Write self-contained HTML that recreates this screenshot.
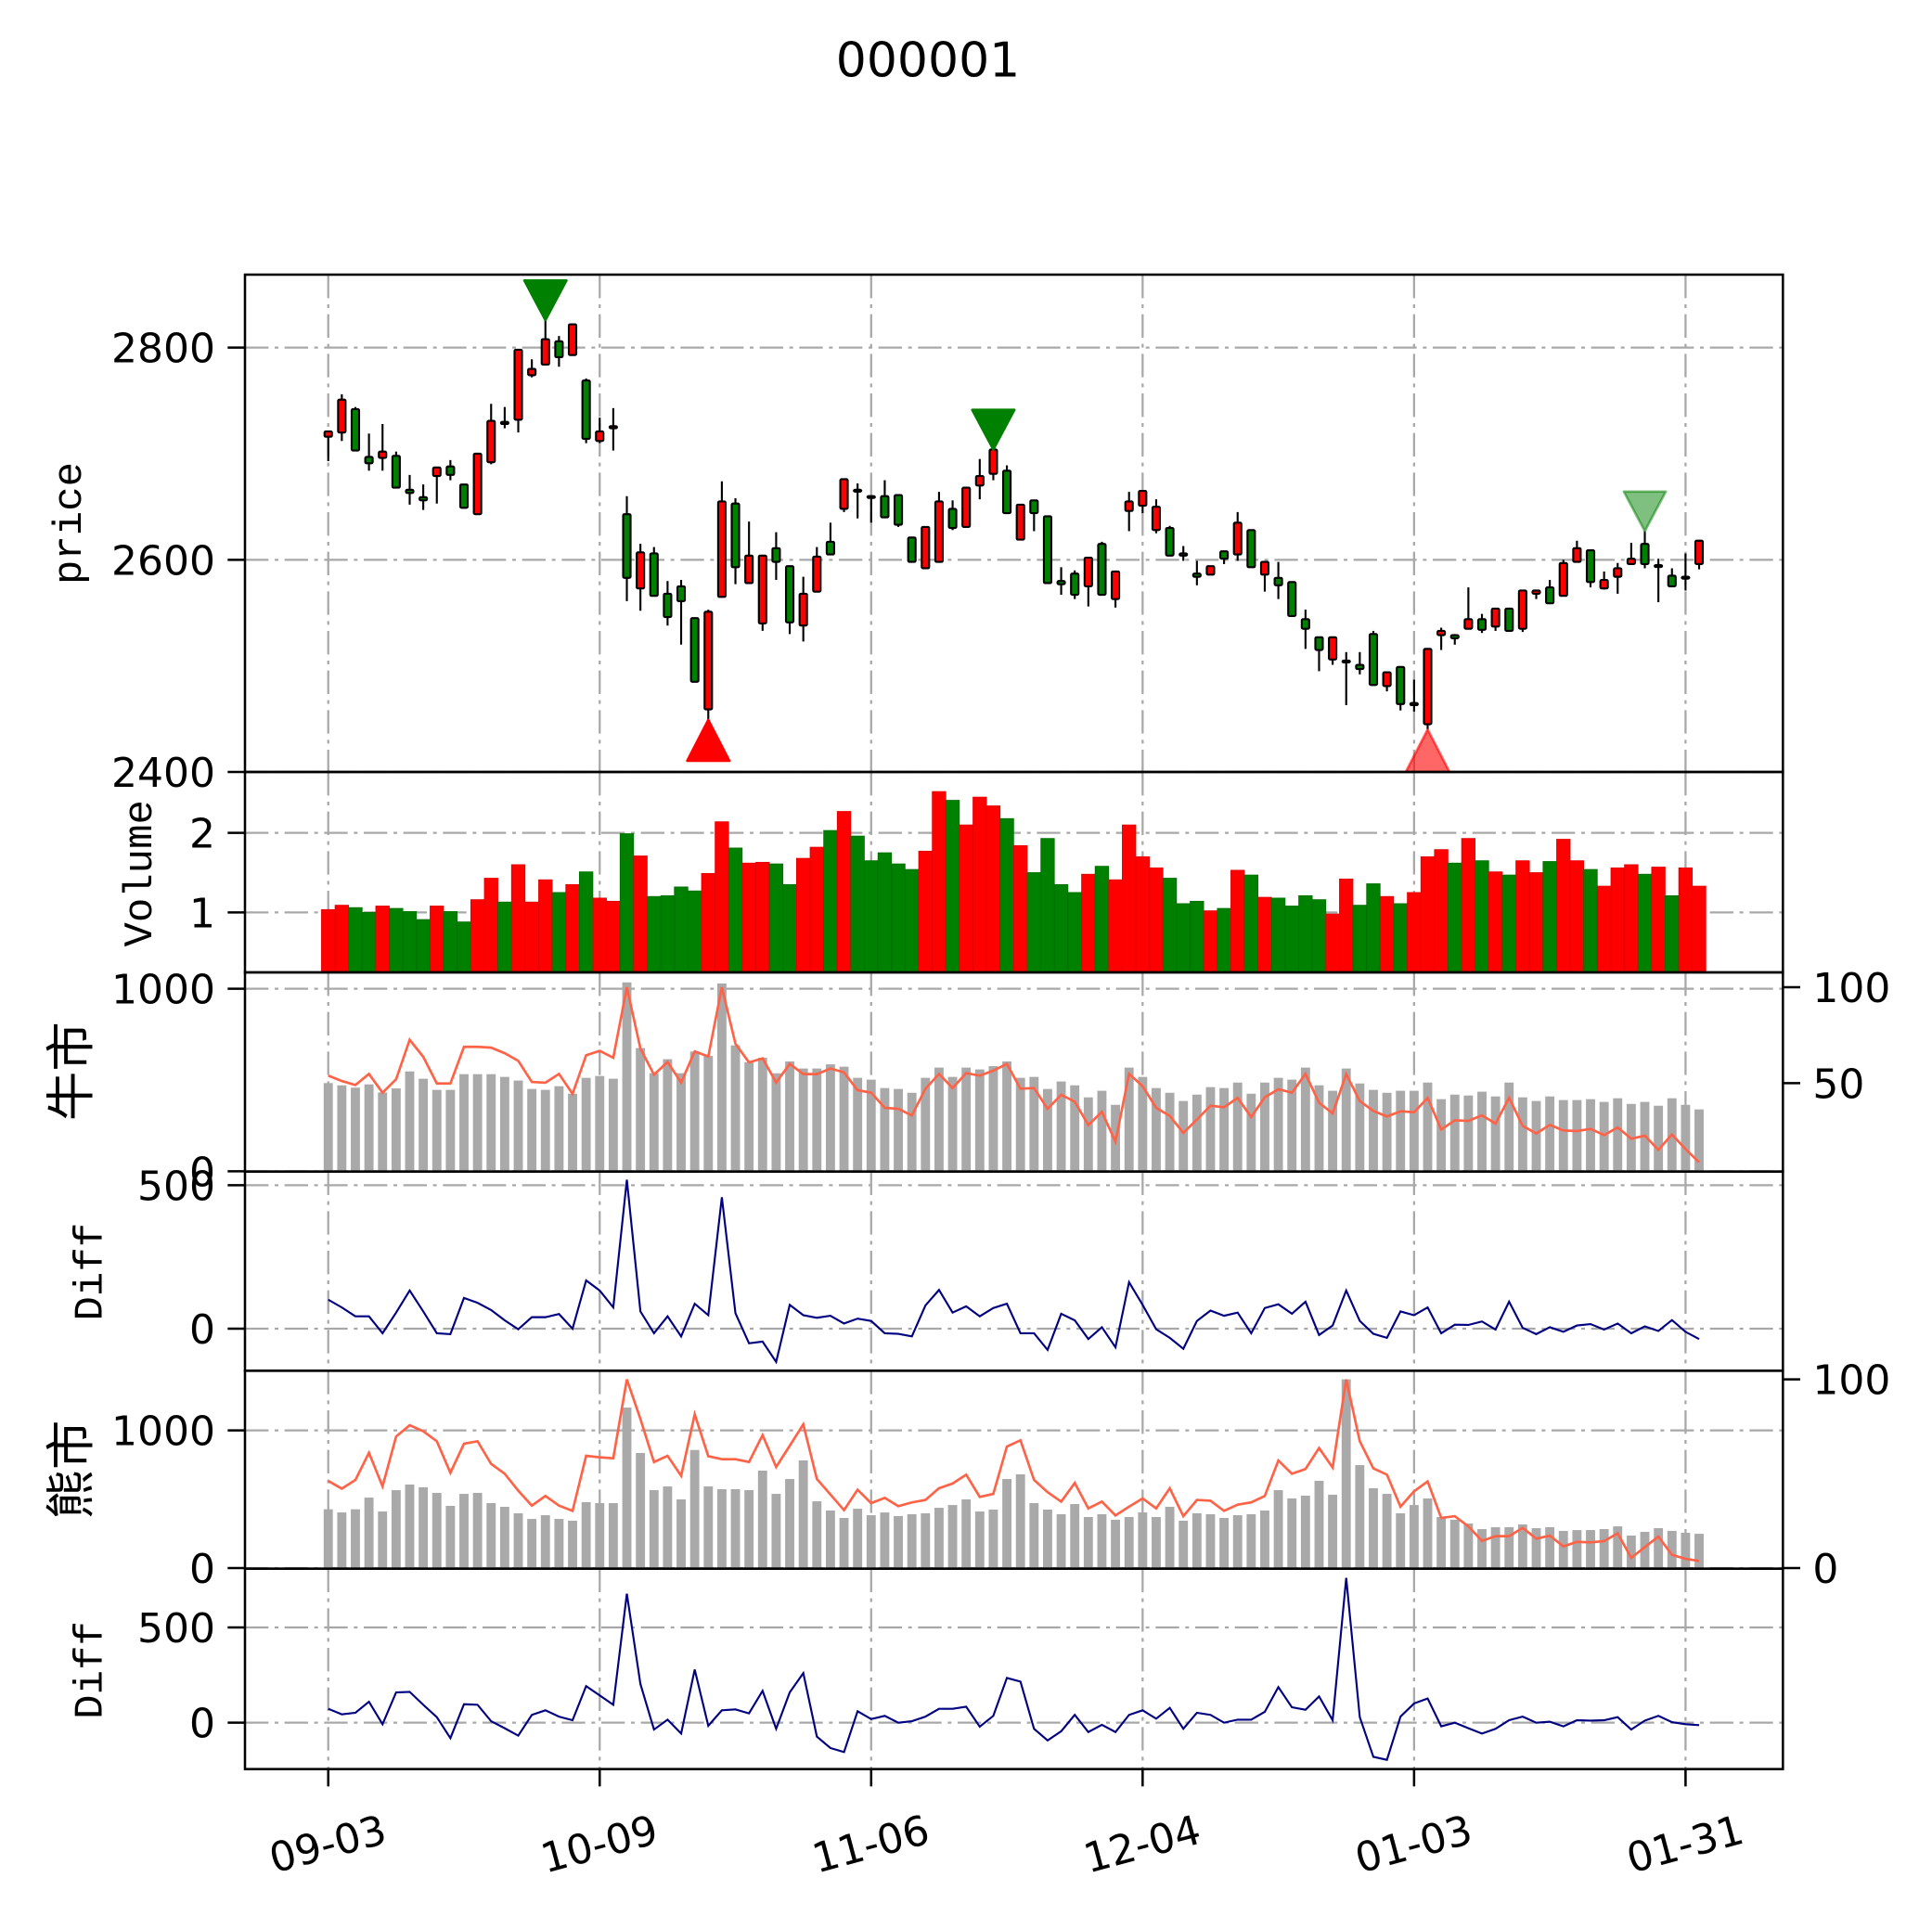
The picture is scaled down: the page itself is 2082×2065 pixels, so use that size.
<!DOCTYPE html>
<html><head><meta charset="utf-8">
<style>
html,body{margin:0;padding:0;background:#fff;}
svg{display:block;}
.tk{font-family:"DejaVu Sans","Liberation Sans",sans-serif;font-size:33px;fill:#000;}
.lbl{font-family:"Liberation Mono","Noto Sans CJK SC",monospace;font-size:33px;fill:#000;}
.cjk{font-family:"Liberation Sans","Noto Sans CJK SC",sans-serif;font-size:40px;fill:#000;}
</style></head>
<body>
<svg id="chart" xmlns="http://www.w3.org/2000/svg" width="2082" height="2065" viewBox="0 0 1561.5 1548.75">
<rect x="0" y="0" width="1561.5" height="1548.75" fill="#fff"/>
<text class="tk" x="750" y="62" text-anchor="middle" style="font-size:39px">000001</text>
<defs><clipPath id="clipPrice"><rect x="198" y="222" width="1243" height="402"/></clipPath></defs>
<g id="grid"></g>
<g id="marks"></g>
<g id="axes"></g>
</svg>
<script>
const xTickIdx = [0,20,40,60,80,100];
const xTickLabels = ["09-03","10-09","11-06","12-04","01-03","01-31"];
const openP = [2716,2720,2742,2697,2696,2698,2666,2659,2679,2688,2671,2643,2692,2730,2732,2774,2784,2806,2793,2769,2712,2724,2643,2573,2606,2568,2575,2545,2459,2565,2653,2578,2540,2611,2594,2538,2570,2617,2648,2666,2660,2660,2661,2621,2592,2598,2648,2631,2670,2681,2684,2619,2656,2641,2580,2587,2575,2615,2563,2646,2651,2628,2630,2606,2587,2586,2608,2605,2628,2586,2583,2579,2544,2527,2506,2504,2501,2530,2481,2499,2463,2445,2529,2529,2535,2544,2537,2554,2535,2568,2574,2566,2598,2609,2573,2584,2596,2615,2594,2585,2583,2596];
const highP = [2721,2756,2744,2719,2728,2702,2680,2671,2687,2694,2671,2700,2747,2744,2798,2789,2826,2811,2822,2771,2734,2743,2660,2615,2612,2580,2581,2545,2553,2674,2658,2636,2604,2626,2594,2584,2612,2635,2676,2672,2661,2675,2661,2621,2631,2664,2656,2668,2695,2704,2689,2652,2656,2641,2593,2590,2602,2617,2589,2664,2665,2657,2632,2613,2599,2594,2608,2645,2628,2598,2598,2579,2553,2527,2527,2513,2513,2533,2494,2499,2487,2516,2536,2530,2574,2549,2554,2554,2571,2571,2581,2600,2618,2609,2589,2597,2616,2627,2601,2592,2606,2618];
const lowP = [2693,2712,2703,2684,2684,2668,2652,2647,2653,2675,2649,2643,2690,2724,2720,2772,2784,2782,2793,2710,2710,2703,2561,2552,2566,2538,2520,2485,2449,2565,2577,2578,2533,2581,2530,2523,2570,2605,2645,2639,2635,2640,2631,2598,2592,2598,2628,2631,2657,2675,2644,2619,2627,2578,2567,2563,2556,2567,2555,2627,2644,2625,2604,2599,2576,2586,2596,2599,2593,2570,2563,2547,2516,2495,2501,2463,2492,2482,2476,2458,2457,2440,2515,2520,2535,2531,2533,2533,2532,2563,2559,2566,2598,2574,2572,2568,2596,2592,2560,2575,2571,2591];
const closeP = [2721,2751,2703,2691,2702,2668,2663,2656,2687,2680,2649,2700,2731,2728,2798,2780,2808,2791,2822,2714,2721,2726,2583,2607,2566,2546,2561,2485,2551,2655,2593,2604,2604,2598,2541,2568,2603,2605,2676,2665,2659,2640,2633,2598,2631,2655,2630,2668,2679,2704,2644,2652,2644,2578,2577,2567,2602,2567,2589,2655,2665,2650,2604,2604,2584,2594,2601,2635,2593,2598,2576,2547,2535,2515,2527,2505,2497,2482,2494,2464,2465,2516,2533,2526,2544,2534,2554,2533,2571,2571,2559,2597,2611,2579,2581,2592,2601,2596,2595,2575,2584,2618];
const volume = [1.035,1.09,1.06,1.00,1.08,1.05,1.01,0.91,1.08,1.01,0.88,1.16,1.43,1.13,1.60,1.13,1.41,1.25,1.35,1.51,1.18,1.14,1.99,1.71,1.20,1.21,1.32,1.27,1.49,2.14,1.81,1.62,1.63,1.61,1.35,1.68,1.82,2.03,2.27,1.96,1.65,1.75,1.61,1.54,1.77,2.52,2.41,2.10,2.45,2.34,2.18,1.84,1.50,1.93,1.35,1.25,1.48,1.58,1.41,2.10,1.70,1.56,1.43,1.11,1.14,1.02,1.05,1.53,1.47,1.19,1.18,1.08,1.21,1.16,0.98,1.42,1.09,1.36,1.20,1.11,1.25,1.70,1.79,1.62,1.93,1.65,1.51,1.47,1.65,1.50,1.64,1.92,1.65,1.54,1.33,1.56,1.60,1.48,1.57,1.21,1.56,1.33];
const bullBar = [483,471,458,476,432,454,547,507,446,446,532,532,532,517,497,451,446,466,425,512,522,507,1035,675,537,614,537,656,632,1029,690,598,622,537,602,563,563,586,573,512,502,456,451,430,512,568,517,568,558,576,602,512,517,451,492,471,405,441,364,568,517,456,430,385,420,461,456,486,425,486,512,502,568,471,441,563,481,446,430,441,441,486,395,420,415,436,410,486,405,385,410,390,390,395,380,400,369,380,359,400,364,339];
const bullLine = [53.9,51.1,49,54.8,45,52,72.6,63.7,49.8,49.8,68.9,68.9,68.5,65.6,61.6,50.6,50.2,54.8,44.4,64.5,66.8,63.2,100,68,54.4,61,50.3,66.5,63.9,100,70.5,60.8,62.9,50.3,60,54.7,54.7,57.6,55.6,46.3,45,37.1,36.6,33.1,47.1,54.8,47.4,55.2,53.9,56.5,60,47.1,47.4,36.6,43.9,40.3,28.1,35,19.4,54.8,48.4,37.1,32.9,24,31,38.2,37.4,42.3,32.3,42.6,46.8,45,54.8,39.8,34.2,54.7,40.6,35.5,32.6,35.3,34.8,42.3,25.8,30.6,30.3,33.2,28.9,42.3,27.7,23.7,28.2,25.3,25,26.1,22.9,26.9,21,22.6,15.2,23.2,15.6,8.7];
const bullDiff = [101,74,43,43,-16,56,133,60,-16,-19,107,90,65,29,-2,40,40,51,0,168,133,74,519,60,-16,43,-27,87,47,458,54,-51,-45,-116,83,47,38,45,18,35,27,-16,-18,-27,81,135,56,78,43,72,87,-16,-16,-74,52,29,-36,5,-65,162,83,-2,-32,-70,27,63,45,56,-16,72,85,52,94,-22,11,133,27,-18,-32,60,47,74,-16,14,13,25,-3,94,3,-19,5,-11,11,16,-3,18,-16,8,-8,30,-11,-36];
const bearBar = [427,404,427,512,411,566,607,587,546,452,539,546,472,445,398,357,384,357,344,479,472,472,1166,836,566,593,499,858,593,573,573,566,708,539,647,782,485,418,364,431,384,404,378,391,398,438,458,499,411,425,647,681,472,425,391,465,371,391,351,371,404,371,445,344,398,391,364,384,391,418,566,506,526,634,533,1371,748,580,539,398,458,506,371,351,324,283,297,297,317,290,297,270,276,276,283,303,236,263,290,270,256,249];
const bearLine = [46.2,42.1,46.7,61.1,43.3,69.7,75.7,72.5,67.2,50.5,65.9,67.2,55.2,50,41,33.1,38.2,33.1,30.3,59.5,58.7,58.2,100,79,56.2,59.5,48.9,81.5,59.3,57.7,57.7,56.2,70.5,53.6,64.8,76.2,47.2,39,30.7,41.5,34.4,37.2,32.8,34.8,36.1,42.3,44.8,49.5,37.7,39.3,64.4,67.7,46.7,40.2,35.2,45.1,31.6,35.2,27.9,32.5,36.9,31.6,42.3,27.5,36.1,35.7,30.3,33.6,34.8,38.2,57,50,52.5,63.6,53.3,100,67.2,52.8,49.5,32.5,40.7,45.9,26.6,27.5,22.1,14.4,16.9,16.9,21.3,15.6,17.2,11.5,13.9,13.6,14.3,18.4,5.4,11.1,16.7,7,4.9,3.8];
const bearDiff = [73,44,52,110,-8,159,162,94,29,-81,97,94,8,-29,-68,41,65,32,13,192,143,94,677,203,-36,16,-57,279,-16,65,70,49,167,-32,159,260,-73,-133,-154,60,19,36,0,8,32,73,73,84,-21,36,235,216,-32,-93,-45,41,-49,-11,-49,41,65,21,78,-32,52,41,0,16,16,57,187,81,68,138,13,760,29,-179,-195,32,101,127,-19,0,-29,-57,-32,13,32,0,5,-19,13,11,13,29,-36,11,36,3,-8,-13];
const buySignals = [28,81];
const buyAlpha = [1,0.6];
const sellSignals = [16,49,97];
const sellAlpha = [1,1,0.5];

const NS = "http://www.w3.org/2000/svg";
const L = 198, R = 1441;
const P = {price:[222,624], vol:[624,786], bull:[786,947], d1:[947,1108], bear:[1108,1268], d2:[1268,1430]};
function xs(i){ return 265.3 + 10.97*i; }
function yPrice(p){ return 452.5 - (p-2600)*0.8575; }
function yVol(v){ return 737.5 - (v-1)*64.25; }
function yBullL(v){ return 946.75 - v*0.1475; }
function yBullR(v){ return 953 - v*1.55; }
function yD1(v){ return 1074 - v*0.232; }
function yBearL(v){ return 1267.5 - v*0.11125; }
function yBearR(v){ return 1267.5 - v*1.525; }
function yD2(v){ return 1392.5 - v*0.154; }

function mk(tag, attrs, parent){
  const e = document.createElementNS(NS, tag);
  for (const k in attrs) e.setAttribute(k, attrs[k]);
  parent.appendChild(e);
  return e;
}
const grid = document.getElementById('grid');
const marks = document.getElementById('marks');
const axes = document.getElementById('axes');
const GS = {stroke:"#a8a8a8","stroke-width":"1.7","stroke-dasharray":"19,5,3,5",fill:"none"};

for (const key in P){
  for (let k=0;k<xTickIdx.length;k++){
    const x = xs(xTickIdx[k]);
    const g = mk('line', Object.assign({x1:x,x2:x,y1:P[key][0],y2:P[key][1]},GS), grid);
    
    
  }
}
const leftTicks = [
  [yPrice(2400),"2400"],[yPrice(2600),"2600"],[yPrice(2800),"2800"],
  [yVol(1),"1"],[yVol(2),"2"],
  [yBullL(0),"0"],[yBullL(1000),"1000"],
  [yD1(0),"0"],[yD1(500),"500"],
  [yBearL(0),"0"],[yBearL(1000),"1000"],
  [yD2(0),"0"],[yD2(500),"500"]
];
leftTicks.forEach(t=>{
  const g = mk('line', Object.assign({x1:L,x2:R,y1:t[0],y2:t[0]},GS), grid);
  
  
  const tk = mk('line',{x1:L-14,x2:L,y1:t[0],y2:t[0],stroke:"#000","stroke-width":"1.9"},axes);
  
  
  const tx = mk('text',{x:L-24,y:t[0]+12,"text-anchor":"end","class":"tk"},axes);
  tx.textContent = t[1];
  
  
});
const rightTicks = [[yBullR(100),"100"],[yBullR(50),"50"],[yBearR(100),"100"],[yBearR(0),"0"]];
rightTicks.forEach(t=>{
  const tk = mk('line',{x1:R,x2:R+14,y1:t[0],y2:t[0],stroke:"#000","stroke-width":"1.9"},axes);
  
  
  const tx = mk('text',{x:R+24,y:t[0]+12,"class":"tk"},axes);
  tx.textContent = t[1];
  
  
});

const cg = mk('g',{"clip-path":"url(#clipPrice)"},marks);


for (let i=0;i<openP.length;i++){
  const x = xs(i), up = closeP[i] >= openP[i];
  const w = mk('line',{x1:x,x2:x,y1:yPrice(highP[i]),y2:yPrice(lowP[i]),stroke:"#000","stroke-width":"1.6"},cg);
  
  
  const yt = yPrice(Math.max(openP[i],closeP[i])), yb = yPrice(Math.min(openP[i],closeP[i]));
  const b = mk('rect',{x:x-3,y:yt,width:6,height:Math.max(yb-yt,1.5),fill:up?"#ff0000":"#008000",stroke:"#000","stroke-width":"1.6",rx:"1"},cg);
  
  
}
buySignals.forEach((i,k)=>{
  const x = xs(i), y = yPrice(lowP[i]);
  const s = k===1 ? 1.15 : 1;
  const t = mk('polygon',{points:`${x},${y} ${x-17*s},${y+33*s} ${x+17*s},${y+33*s}`,fill:"#ff0000","fill-opacity":buyAlpha[k],stroke:"#ff0000","stroke-opacity":buyAlpha[k],"stroke-width":"2","stroke-linejoin":"round"},cg);
  
  
});
sellSignals.forEach((i,k)=>{
  const x = xs(i), y = yPrice(highP[i]);
  const t = mk('polygon',{points:`${x},${y} ${x-17},${y-32} ${x+17},${y-32}`,fill:"#008000","fill-opacity":sellAlpha[k],stroke:"#008000","stroke-opacity":sellAlpha[k],"stroke-width":"2","stroke-linejoin":"round"},cg);
  
  
});

for (let i=0;i<volume.length;i++){
  const up = closeP[i] >= openP[i];
  const y = yVol(volume[i]);
  const b = mk('rect',{x:xs(i)-5.45,y:y,width:10.9,height:P.vol[1]-y,fill:up?"#ff0000":"#008000",stroke:up?"#e00000":"#006e00","stroke-width":"0.6"},marks);
  
  
}

function greyBars(arr, fy, bottom, name){
  for (let i=0;i<arr.length;i++){
    const y = fy(arr[i]);
    const b = mk('rect',{x:xs(i)-3.7,y:y,width:7.4,height:bottom-y,fill:"#a9a9a9"},marks);
    
    
  }
}
function line(arr, fy, color, w, name){
  let d = "";
  for (let i=0;i<arr.length;i++) d += (i?"L":"M") + xs(i).toFixed(2) + "," + fy(arr[i]).toFixed(2);
  const p = mk('path',{d:d,fill:"none",stroke:color,"stroke-width":w,"stroke-linejoin":"miter"},marks);
  
  
}
greyBars(bullBar, yBullL, P.bull[1], 'bull-bar');
line(bullLine, yBullR, "#ff6347", 2, 'bull-ratio-line');
line(bullDiff, yD1, "#000080", 1.6, 'bull-diff-line');
greyBars(bearBar, yBearL, P.bear[1], 'bear-bar');
line(bearLine, yBearR, "#ff6347", 2, 'bear-ratio-line');
line(bearDiff, yD2, "#000080", 1.6, 'bear-diff-line');

const frameNames = {price:'price-panel',vol:'volume-panel',bull:'bull-panel',d1:'bull-diff-panel',bear:'bear-panel',d2:'bear-diff-panel'};
for (const key in P){
  const f = mk('rect',{x:L,y:P[key][0],width:R-L,height:P[key][1]-P[key][0],fill:"none",stroke:"#000","stroke-width":"1.9"},axes);
  
  
}
for (let k=0;k<xTickIdx.length;k++){
  const x = xs(xTickIdx[k]);
  const tk = mk('line',{x1:x,x2:x,y1:P.d2[1],y2:P.d2[1]+14,stroke:"#000","stroke-width":"1.9"},axes);
  
  
  const tx = mk('text',{x:x,y:1502,"text-anchor":"middle","class":"tk",transform:`rotate(-15 ${x} 1492)`},axes);
  tx.textContent = xTickLabels[k];
  
  
}
const titles = [
  ["price",57,423,"lbl","price-axis-title"],
  ["Volume",114,706,"lbl","volume-axis-title"],
  ["牛市",58,866,"cjk","bull-axis-title"],
  ["Diff",74,1028,"lbl","bull-diff-axis-title"],
  ["熊市",58,1188,"cjk","bear-axis-title"],
  ["Diff",74,1350,"lbl","bear-diff-axis-title"]
];
titles.forEach(t=>{
  const tx = mk('text',{x:t[1],y:t[2],"text-anchor":"middle","dominant-baseline":"central","class":t[3],transform:`rotate(-90 ${t[1]} ${t[2]})`},axes);
  tx.textContent = t[0];
  
  
});
</script>
</body></html>
